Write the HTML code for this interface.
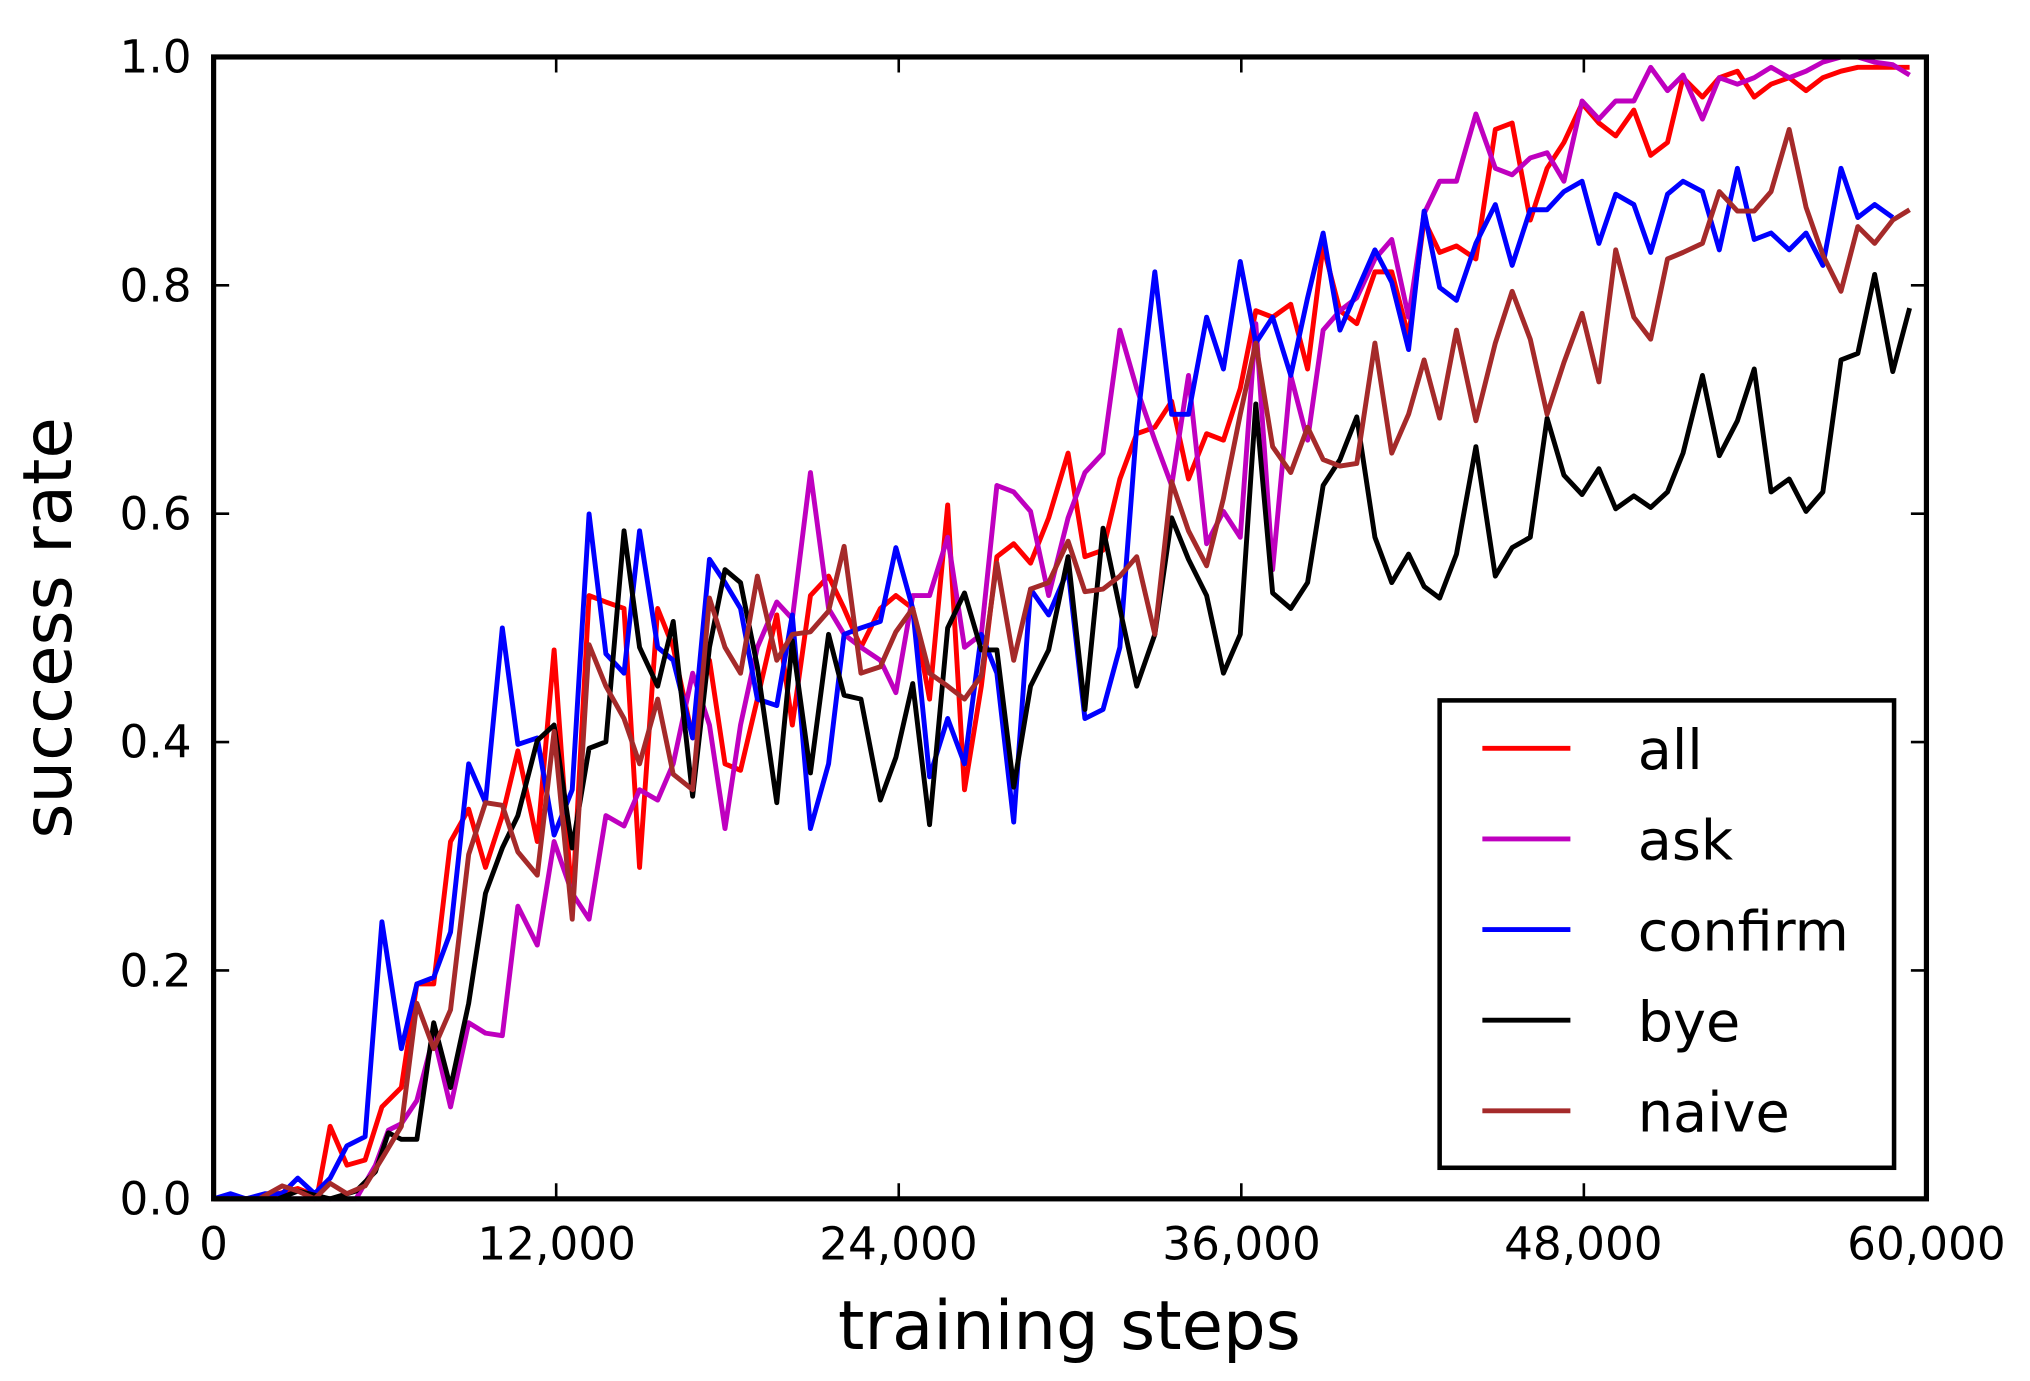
<!DOCTYPE html>
<html><head><style>html,body{margin:0;padding:0;background:#fff}svg{display:block}</style></head><body>
<svg width="2030" height="1381" viewBox="0 0 1568 1066.7" preserveAspectRatio="none" xmlns="http://www.w3.org/2000/svg" font-family="DejaVu Sans, Liberation Sans, sans-serif">
<g fill="none" stroke-width="3.8" stroke-linejoin="round">
<polyline stroke="#ff0000" points="165,926 190,926 215,922 230,918 245,924 255,870 268,900 282,896 295,855 310,840 322,760 335,760 348,650 362,625 375,670 388,630 400,580 415,650 428,502 442,700 455,460 468,465 482,470 494,670 508,470 520,500 535,570 548,510 560,590 572,595 585,540 600,475 612,560 626,460 640,445 652,470 665,500 680,470 692,460 705,470 718,540 732,390 745,610 758,530 770,430 783,420 796,435 810,400 825,350 838,430 852,425 865,370 878,335 892,330 905,310 918,370 932,335 945,340 958,300 970,240 983,245 997,235 1010,285 1022,190 1035,240 1048,250 1062,210 1075,210 1088,260 1100,170 1112,195 1125,190 1140,200 1155,100 1168,95 1182,170 1195,130 1208,110 1222,80 1235,95 1248,105 1262,85 1275,120 1288,110 1300,60 1315,75 1328,60 1342,55 1355,75 1368,65 1382,60 1395,70 1408,60 1422,55 1435,52 1448,52 1475,52"/>
<polyline stroke="#bf00bf" points="165,926 250,926 275,926 290,900 300,873 310,868 322,850 335,800 348,855 362,790 375,798 388,800 400,700 415,730 428,650 442,690 455,710 468,630 482,638 494,610 508,618 520,590 535,520 548,560 560,640 572,560 585,500 600,465 612,478 626,365 640,470 652,490 665,500 680,510 692,535 705,460 718,460 732,415 745,500 758,490 770,375 783,380 796,395 810,460 825,400 838,365 852,350 865,255 878,300 892,340 905,375 918,290 932,420 945,395 958,415 970,250 983,440 997,290 1010,340 1022,255 1035,240 1048,230 1062,200 1075,185 1088,245 1100,165 1112,140 1125,140 1140,88 1155,130 1168,135 1182,122 1195,118 1208,140 1222,78 1235,92 1248,78 1262,78 1275,52 1288,70 1300,58 1315,92 1328,60 1342,65 1355,60 1368,52 1382,60 1395,55 1408,48 1422,44 1435,44 1448,48 1462,50 1475,58"/>
<polyline stroke="#0000ff" points="165,926 178,922 190,926 205,922 218,922 230,910 243,922 255,910 268,885 282,878 295,712 310,810 322,760 335,755 348,720 362,590 375,620 388,485 400,575 415,570 428,645 442,610 455,397 468,505 482,520 494,410 508,500 520,510 535,570 548,432 560,450 572,470 585,540 600,545 612,475 626,640 640,590 652,490 665,485 680,480 692,423 705,470 718,600 732,555 745,590 758,490 770,520 783,635 796,455 810,475 825,440 838,555 852,548 865,500 878,330 892,210 905,320 918,320 932,245 945,285 958,202 970,265 983,245 997,290 1010,230 1022,180 1035,255 1048,225 1062,193 1075,218 1088,270 1100,163 1112,222 1125,232 1140,188 1155,158 1168,205 1182,162 1195,162 1208,148 1222,140 1235,188 1248,150 1262,158 1275,195 1288,150 1300,140 1315,148 1328,193 1342,130 1355,185 1368,180 1382,193 1395,180 1408,205 1422,130 1435,168 1448,158 1462,168"/>
<polyline stroke="#000000" points="165,926 215,926 230,920 255,926 275,920 290,905 300,875 310,880 322,880 335,790 348,840 362,775 375,690 388,655 400,630 415,572 428,560 442,655 455,578 468,573 482,410 494,500 508,530 520,480 535,615 548,500 560,440 572,450 585,515 600,620 612,495 626,597 640,490 652,537 665,540 680,618 692,585 705,528 718,637 732,485 745,458 758,502 770,502 783,608 796,530 810,502 825,430 838,548 852,408 865,470 878,530 892,490 905,400 918,432 932,460 945,520 958,490 970,312 983,458 997,470 1010,450 1022,375 1035,355 1048,322 1062,415 1075,450 1088,428 1100,453 1112,462 1125,428 1140,345 1155,445 1168,423 1182,415 1195,323 1208,367 1222,382 1235,362 1248,393 1262,383 1275,392 1288,380 1300,350 1315,290 1328,352 1342,325 1355,285 1368,380 1382,370 1395,395 1408,380 1422,278 1435,273 1448,212 1462,287 1475,238"/>
<polyline stroke="#a52a2a" points="165,926 200,926 218,916 230,920 243,926 255,914 268,922 282,916 295,895 310,870 322,775 335,810 348,780 362,660 375,620 388,622 400,658 415,676 428,565 442,710 455,498 468,530 482,555 494,590 508,540 520,598 535,610 548,462 560,500 572,520 585,445 600,510 612,490 626,488 640,472 652,422 665,520 680,515 692,488 705,470 718,520 732,530 745,540 758,522 770,435 783,510 796,455 810,450 825,418 838,457 852,455 865,445 878,430 892,490 905,372 918,410 932,437 945,385 958,320 970,265 983,345 997,365 1010,330 1022,355 1035,360 1048,358 1062,265 1075,350 1088,320 1100,278 1112,323 1125,255 1140,325 1155,265 1168,225 1182,262 1195,320 1208,280 1222,242 1235,295 1248,193 1262,245 1275,262 1288,200 1300,195 1315,188 1328,148 1342,163 1355,163 1368,148 1382,100 1395,160 1408,197 1422,225 1435,175 1448,188 1462,170 1475,162"/>
</g>
<rect x="165" y="44" width="1323" height="882" fill="none" stroke="#000" stroke-width="4"/>
<g stroke="#000" stroke-width="2">
<path d="M429.6,926v-12M694.2,926v-12M958.8,926v-12M1223.4,926v-12M429.6,44v12M694.2,44v12M958.8,44v12M1223.4,44v12"/>
<path d="M165,749.6h12M165,573.2h12M165,396.8h12M165,220.4h12M1488,749.6h-12M1488,573.2h-12M1488,396.8h-12M1488,220.4h-12"/>
</g>
<g font-size="35" text-anchor="end" fill="#000">
<text x="148" y="938">0.0</text><text x="148" y="762">0.2</text><text x="148" y="585">0.4</text><text x="148" y="409">0.6</text><text x="148" y="233">0.8</text><text x="148" y="56">1.0</text>
</g>
<g font-size="35" text-anchor="middle" fill="#000">
<text x="165" y="973">0</text><text x="430" y="973">12,000</text><text x="694" y="973">24,000</text><text x="959" y="973">36,000</text><text x="1223" y="973">48,000</text><text x="1488" y="973">60,000</text>
</g>
<text x="826" y="1042" font-size="52" text-anchor="middle">training steps</text>
<text transform="translate(55,485) rotate(-90)" font-size="52" text-anchor="middle">success rate</text>
<rect x="1112" y="541" width="351" height="361" fill="#fff" stroke="#000" stroke-width="3.5"/>
<g stroke-width="3.8">
<line x1="1145" x2="1213" y1="578" y2="578" stroke="#ff0000"/>
<line x1="1145" x2="1213" y1="648" y2="648" stroke="#bf00bf"/>
<line x1="1145" x2="1213" y1="718" y2="718" stroke="#0000ff"/>
<line x1="1145" x2="1213" y1="788" y2="788" stroke="#000"/>
<line x1="1145" x2="1213" y1="858" y2="858" stroke="#a52a2a"/>
</g>
<g font-size="43" fill="#000">
<text x="1265" y="594">all</text><text x="1265" y="664">ask</text><text x="1265" y="734">confirm</text><text x="1265" y="804">bye</text><text x="1265" y="874">naive</text>
</g>
</svg>
</body></html>
